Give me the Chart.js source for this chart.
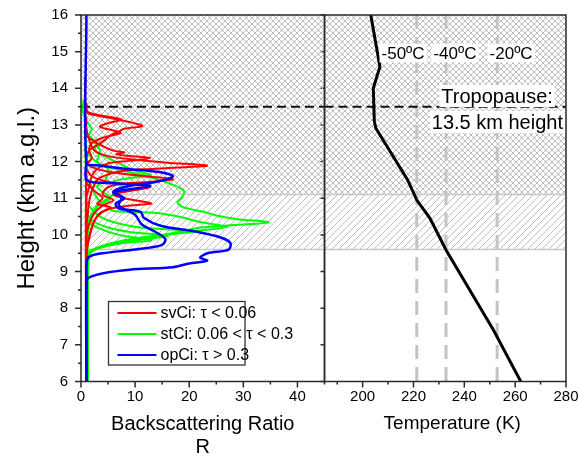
<!DOCTYPE html>
<html>
<head>
<meta charset="utf-8">
<script src="https://cdn.jsdelivr.net/npm/chart.js@4.4.1/dist/chart.umd.min.js"></script>
<style>
    html, body { margin: 0; padding: 0; background: #fff; }
    #wrap { position: relative; width: 579px; height: 456px; overflow: hidden; background: #fff; }
    #wrap canvas { position: absolute; top: 0; }
    #cv-temp { left: 294px; }
    #cv-bsr  { left: 0; }
</style>
</head>
<body>
<div id="wrap">
    <canvas id="cv-temp" width="285" height="456"></canvas>
    <canvas id="cv-bsr"  width="330" height="456"></canvas>
</div>
<script>
// ───── axes ─────
const H_RANGE = [6, 16];
const R_RANGE = [0, 45];
const T_RANGE = [185, 280];
const H_TICKS = [6, 7, 8, 9, 10, 11, 12, 13, 14, 15, 16];
const R_TICKS = [0, 10, 20, 30, 40];
const T_TICKS = [200, 220, 240, 260, 280];

// ───── lidar profiles, [R, height km] ─────
// svCi (tau < 0.06)
const SV_1 = [[1,6],[1,12.1],[1.5,12.3],[3,12.45],[4.5,12.6],[5.5,12.72],[7,12.82],[8,12.9],[11.3,12.97],[9,13.08],[5,13.2],[2.5,13.27],[1.2,13.33],[1,13.6]];
const SV_2 = [[1,6],[1,11.9],[2,12.1],[1.5,12.3],[2,12.5],[4,12.65],[7.3,12.78],[6.5,12.83],[3.5,12.95],[5,13.05],[7.5,13.15],[3,13.28],[1,13.4],[0.8,14.3]];
const SV_3 = [[1,6],[1,10.2],[1.2,10.5],[1.5,10.9],[2,11.2],[3,11.5],[5,11.65],[8,11.75],[13,11.8],[18,11.84],[23.3,11.89],[16,11.97],[10,12.05],[5,12.15],[2.5,12.3],[1.5,12.6],[1,12.9],[1,13.2]];
const SV_4 = [[1,6],[1,11],[1.5,11.3],[2,11.6],[3,11.8],[5,11.95],[9,12.02],[12.8,12.1],[9,12.15],[6.5,12.2],[8,12.25],[6,12.3],[3,12.5],[1,12.7]];
const SV_5 = [[1,6],[1,10],[1.5,10.3],[2.5,10.6],[4,10.8],[6,10.95],[4,11.1],[5,11.3],[8,11.4],[13,11.45],[17,11.52],[12,11.6],[6,11.7],[2,11.85],[1,12]];
const SV_6 = [[1,6],[1,9.6],[1.3,9.8],[2,10.2],[3,10.5],[5,10.7],[9,10.8],[13,10.86],[8,11],[6,11.1],[9,11.2],[12.8,11.3],[9,11.38],[5,11.45],[2,11.6],[1,11.8]];
const SV_7 = [[1,6],[1,9.5],[1.5,9.9],[2,10.2],[2.5,10.4],[3.5,10.6],[5.5,10.75],[3,10.85],[4,11],[2.5,11.2],[1,11.4]];
// stCi (0.06 < tau < 0.3)
const ST_1 = [[1.2,6],[1.2,9.3],[1.5,9.45],[2.5,9.6],[5,9.72],[10,9.85],[15.9,10.02],[19,10.11],[22.1,10.2],[28.2,10.27],[34.7,10.34],[28.9,10.43],[25.2,10.52],[22.7,10.63],[19,10.75],[17.8,10.88],[18.7,11.02],[19,11.2],[16.6,11.39],[12.9,11.57],[8,11.75],[4,11.9],[2,12.1],[1,12.3],[0.8,13]];
const ST_2 = [[1.2,6],[1.2,9.35],[1.5,9.5],[3,9.62],[7,9.78],[13,9.92],[18,10.05],[22,10.12],[27,10.22],[22,10.35],[18,10.5],[14,10.6],[6,10.65],[4.5,10.8],[3,11],[2,11.3],[1,11.6],[0.8,12.5]];
const ST_3 = [[1.2,6],[1.3,9.45],[2,9.55],[4,9.7],[9,9.88],[15,10],[21,10.1],[11,10.2],[6,10.35],[3.5,10.5],[2,10.7],[1,10.9]];
const ST_4 = [[1.2,6],[1.5,9.5],[3,9.65],[6,9.78],[11,9.88],[16,9.97],[9,10.08],[5,10.2],[2,10.4],[1,10.6]];
const ST_5 = [[1.2,6],[1.3,9.48],[2,9.58],[4,9.68],[8,9.78],[13,9.86],[7,10],[3,10.2],[1,10.4]];
const ST_6 = [[1.2,6],[1,9.8],[1.2,10.2],[2,10.6],[4,10.9],[6,11.1],[8,11.3],[6,11.45],[9,11.55],[13,11.62],[10,11.75],[7,11.95],[5,12.1],[2.5,12.3],[3,12.5],[1.5,12.7],[2,12.9],[1,13.1],[0.3,13.4],[0.5,13.7]];
const ST_7 = [[1.2,6],[1.3,10],[2,10.5],[3,10.8],[5.5,11],[3,11.3],[4.5,11.5],[5,11.8],[3,12],[3.5,12.3],[2,12.6],[1,12.8],[0.8,13.3]];
// opCi (tau > 0.3)
const OP_1 = [[1,6],[1,8.6],[1.3,8.82],[4,8.95],[9,9.05],[17,9.12],[20,9.22],[23.3,9.3],[22,9.38],[23.4,9.5],[27.3,9.6],[27.6,9.78],[25.8,9.93],[20.8,10.1],[14.7,10.25],[11.6,10.47],[11,10.63],[7,10.72],[6.4,10.85],[8,11],[6,11.18],[8.5,11.32],[14,11.45],[17,11.6],[14.7,11.71],[8.5,11.8],[3,11.9],[1,11.95],[1,16]];
const OP_2 = [[1,6],[1,9.2],[1.5,9.4],[4,9.5],[10,9.6],[14.9,9.72],[15.6,9.88],[14,10.06],[11.2,10.29],[10,10.55],[7,10.8],[7.5,11.02],[6,11.16],[12.8,11.34],[4,11.42],[1,11.5],[1,12]];

// ───── radiosonde ─────
const TEMP_K = [262.2, 251.4, 232.8, 226.5, 221.3, 217.7, 205.2, 204.6, 204.2, 206.8, 203.2];
const TEMP_H = [6,     7.41,  9.59,  10.45, 10.95, 11.5,  12.91, 13.09, 14.0,  14.59, 16];
const ISO_K   = [221.3, 232.8, 252.9];
const ISO_TXT = ["-50ºC", "-40ºC", "-20ºC"];

// ───── layers ─────
const TROPO_H    = 13.5;
const BAND_CROSS = [11.1, 16];
const BAND_DIAG  = [9.6, 11.1];

const SERIES = [
    { label: "svCi: τ < 0.06",       color: "#ff0000", width: 2,   order: 2, profiles: [SV_1, SV_2, SV_3, SV_4, SV_5, SV_6, SV_7] },
    { label: "stCi: 0.06 < τ < 0.3", color: "#00ff00", width: 2,   order: 3, profiles: [ST_1, ST_2, ST_3, ST_4, ST_5, ST_6, ST_7] },
    { label: "opCi: τ > 0.3",        color: "#0000ff", width: 2.5, order: 1, profiles: [OP_1, OP_2] },
];

const FONT       = "Arial, 'Liberation Sans', Helvetica, sans-serif";
const AXIS_COLOR = "#2a2a2a";
const PLOT_TOP   = 15;
const X_AXIS_H   = 74.5;

// hatch tiles
function _tile(size, both, color) {
    const c = document.createElement("canvas");
    c.width = c.height = size;
    const g = c.getContext("2d");
    g.strokeStyle = color;
    g.lineWidth   = 1;
    for (const k of [-size, 0, size]) {
        g.beginPath(); g.moveTo(k, size); g.lineTo(k + size, 0); g.stroke();
        if (both) { g.beginPath(); g.moveTo(k, 0); g.lineTo(k + size, size); g.stroke(); }
    }
    return c;
}
const TILE_CROSS = _tile(6, true,  "#bdbdbd");
const TILE_DIAG  = _tile(7, false, "#bcbcbc");

const bandsPlugin = {
    id: "bands",
    beforeDatasetsDraw(chart) {
        const { ctx, chartArea: a, scales: { y } } = chart;
        const w = a.right - a.left;
        ctx.save();
        const c0 = y.getPixelForValue(BAND_CROSS[1]), c1 = y.getPixelForValue(BAND_CROSS[0]);
        const d0 = y.getPixelForValue(BAND_DIAG[1]),  d1 = y.getPixelForValue(BAND_DIAG[0]);
        ctx.fillStyle = ctx.createPattern(TILE_CROSS, "repeat");
        ctx.fillRect(a.left, c0, w, c1 - c0);
        ctx.fillStyle = ctx.createPattern(TILE_DIAG, "repeat");
        ctx.fillRect(a.left, d0, w, d1 - d0);
        ctx.strokeStyle = "#c8c8c8";
        ctx.lineWidth   = 1.5;
        ctx.beginPath();
        ctx.moveTo(a.left, c1); ctx.lineTo(a.right, c1);
        ctx.moveTo(a.left, d1); ctx.lineTo(a.right, d1);
        ctx.stroke();
        ctx.restore();
    }
};

// box + outward tick marks (major long, minor short)
function framePlugin(ax) {
    return {
        id: "frame",
        afterDraw(chart) {
            const { ctx, chartArea: a, scales: { x, y } } = chart;
            ctx.save();
            ctx.strokeStyle = AXIS_COLOR;
            ctx.lineWidth   = 1.5;
            ctx.strokeRect(a.left, a.top, a.right - a.left, a.bottom - a.top);
            ctx.beginPath();
            ax.xMajor.forEach(v => { const p = x.getPixelForValue(v); ctx.moveTo(p, a.bottom); ctx.lineTo(p, a.bottom + 6); });
            ax.xMinor.forEach(v => { const p = x.getPixelForValue(v); ctx.moveTo(p, a.bottom); ctx.lineTo(p, a.bottom + 3); });
            ax.yMajor.forEach(v => { const p = y.getPixelForValue(v); ctx.moveTo(a.left, p); ctx.lineTo(a.left - ax.yLen, p); });
            ax.yMinor.forEach(v => { const p = y.getPixelForValue(v); ctx.moveTo(a.left, p); ctx.lineTo(a.left - 3, p); });
            ctx.stroke();
            ctx.restore();
        }
    };
}

const legendPlugin = {
    id: "boxLegend",
    afterDraw(chart) {
        const { ctx, chartArea: a } = chart;
        const bx = a.left + 27.5, by = 301.5, bw = 136.5, bh = 63.5;
        ctx.save();
        ctx.fillStyle = "#fff";
        ctx.fillRect(bx, by, bw, bh);
        ctx.strokeStyle = "#333";
        ctx.lineWidth   = 1.3;
        ctx.strokeRect(bx, by, bw, bh);
        ctx.font         = "16px " + FONT;
        ctx.textBaseline = "middle";
        SERIES.forEach((s, i) => {
            const ry = by + 11.5 + i * 21;
            ctx.strokeStyle = s.color;
            ctx.lineWidth   = 2;
            ctx.beginPath(); ctx.moveTo(bx + 9, ry); ctx.lineTo(bx + 48, ry); ctx.stroke();
            ctx.fillStyle = "#000";
            ctx.fillText(s.label, bx + 52, ry + 1);
        });
        ctx.restore();
    }
};

function _boxedText(ctx, txt, cx, cy, size) {
    ctx.font = size + "px " + FONT;
    const w = ctx.measureText(txt).width;
    ctx.fillStyle = "#fff";
    ctx.fillRect(cx - w / 2 - 2, cy - size * 0.55, w + 4, size * 1.1);
    ctx.fillStyle = "#000";
    ctx.fillText(txt, cx, cy + 1);
}

const notesPlugin = {
    id: "notes",
    afterDatasetsDraw(chart) {
        const { ctx, scales: { x, y } } = chart;
        ctx.save();
        ctx.textAlign    = "center";
        ctx.textBaseline = "middle";
        const isoY = y.getPixelForValue(14.96);
        [215.9, 236.3, 258.4].forEach((t, i) => _boxedText(ctx, ISO_TXT[i], x.getPixelForValue(t), isoY, 17));
        _boxedText(ctx, "Tropopause:",          x.getPixelForValue(252.9), y.getPixelForValue(13.79), 20);
        _boxedText(ctx, TROPO_H + " km height", x.getPixelForValue(253),   y.getPixelForValue(13.08), 20);
        ctx.restore();
    },
    afterDraw(chart) {
        const { ctx, chartArea: a } = chart;
        ctx.save();
        ctx.font         = "19px " + FONT;
        ctx.fillStyle    = "#000";
        ctx.textAlign    = "center";
        ctx.textBaseline = "middle";
        ctx.fillText("Temperature (K)", (a.left + a.right) / 2 + 7, 424);
        ctx.restore();
    }
};

const _pts = arr => arr.map(p => ({ x: p[0], y: p[1] }));
const _hLine = (x0, x1) => ({
    data: [{ x: x0, y: TROPO_H }, { x: x1, y: TROPO_H }],
    borderColor: "#111", borderWidth: 2, borderDash: [9, 5], order: 5, tension: 0,
});
// keep the plot box where the layout padding puts it
const _noOverflow = s => { s.paddingTop = 0; s.paddingBottom = 0; s.paddingLeft = 0; s.paddingRight = 0; };

const tickFont = { size: 15, family: FONT };
const baseOpts = {
    responsive: false, animation: false, events: [],
    elements: { point: { radius: 0 } },
    plugins: { legend: { display: false }, tooltip: { enabled: false } },
};

// ───── left: backscattering ratio ─────
const bsrSets = [];
SERIES.forEach(s => s.profiles.forEach(p => bsrSets.push({
    data: _pts(p), borderColor: s.color, borderWidth: s.width, tension: 0.3, order: s.order,
})));
bsrSets.push(_hLine(R_RANGE[0], R_RANGE[1]));

new Chart(document.getElementById("cv-bsr").getContext("2d"), {
    type: "scatter",
    data: { datasets: bsrSets.map(d => ({ ...d, showLine: true })) },
    options: {
        ...baseOpts,
        layout: { padding: { top: PLOT_TOP, right: 5.5, left: 0, bottom: 0 } },
        scales: {
            x: {
                type: "linear", min: R_RANGE[0], max: R_RANGE[1],
                afterBuildTicks: s => { s.ticks = R_TICKS.map(v => ({ value: v })); },
                afterFit: s => { s.height = X_AXIS_H; _noOverflow(s); },
                grid: { display: false, drawTicks: false }, border: { display: false },
                ticks: { color: "#000", font: tickFont, padding: 6, maxRotation: 0 },
                title: {
                    display: true, text: ["Backscattering Ratio", "R"], color: "#000",
                    font: { size: 20, family: FONT, lineHeight: 1.15 }, padding: { top: 0, bottom: -3 },
                },
            },
            y: {
                type: "linear", min: H_RANGE[0], max: H_RANGE[1],
                afterBuildTicks: s => { s.ticks = H_TICKS.map(v => ({ value: v })); },
                afterFit: s => { s.width = 81; _noOverflow(s); },
                grid: { display: false, drawTicks: false }, border: { display: false },
                ticks: { color: "#000", font: tickFont, padding: 13 },
                title: {
                    display: true, text: "Height (km a.g.l.)", color: "#000",
                    font: { size: 24, family: FONT, lineHeight: 1.2 }, padding: { top: 13, bottom: 0 },
                },
            },
        },
    },
    plugins: [bandsPlugin, legendPlugin, framePlugin({
        xMajor: R_TICKS, xMinor: [5, 15, 25, 35, 45],
        yMajor: H_TICKS, yMinor: H_TICKS.slice(1).map(v => v - 0.5), yLen: 6,
    })],
});

// ───── right: temperature ─────
const tempSets = [
    { data: TEMP_K.map((k, i) => ({ x: k, y: TEMP_H[i] })), borderColor: "#000", borderWidth: 3, tension: 0, order: 0 },
    ...ISO_K.map(k => ({
        data: [{ x: k, y: H_RANGE[1] }, { x: k, y: H_RANGE[0] }],
        borderColor: "#c4c4c4", borderWidth: 3, borderDash: [14, 8], tension: 0, order: 6,
    })),
    _hLine(T_RANGE[0], T_RANGE[1]),
];

new Chart(document.getElementById("cv-temp").getContext("2d"), {
    type: "scatter",
    data: { datasets: tempSets.map(d => ({ ...d, showLine: true })) },
    options: {
        ...baseOpts,
        layout: { padding: { top: PLOT_TOP, right: 13, left: 30.5, bottom: 0 } },
        scales: {
            x: {
                type: "linear", min: T_RANGE[0], max: T_RANGE[1],
                afterBuildTicks: s => { s.ticks = T_TICKS.map(v => ({ value: v })); },
                afterFit: s => { s.height = X_AXIS_H; _noOverflow(s); },
                grid: { display: false, drawTicks: false }, border: { display: false },
                ticks: { color: "#000", font: tickFont, padding: 6, maxRotation: 0 },
            },
            y: { type: "linear", display: false, min: H_RANGE[0], max: H_RANGE[1] },
        },
    },
    plugins: [bandsPlugin, notesPlugin, framePlugin({
        xMajor: T_TICKS, xMinor: [190, 210, 230, 250, 270],
        yMajor: H_TICKS, yMinor: [], yLen: 4,
    })],
});
</script>
</body>
</html>
